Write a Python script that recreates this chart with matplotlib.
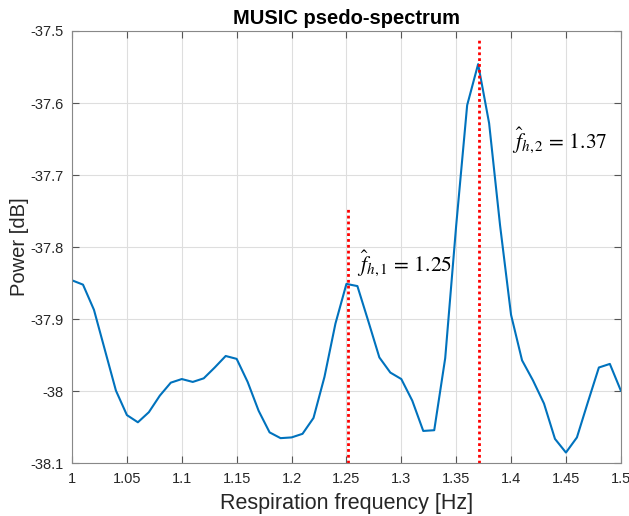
import numpy as np
import matplotlib
matplotlib.use('Agg')
import matplotlib.pyplot as plt

plt.rcParams['font.family'] = ['Liberation Sans', 'DejaVu Sans']
plt.rcParams['axes.unicode_minus'] = False
plt.rcParams['mathtext.fontset'] = 'stix'

# frequency grid and pseudo-spectrum values
freq = np.round(np.arange(1.00, 1.505, 0.01), 2)
power = [-37.846, -37.852, -37.887, -37.943, -37.999, -38.033, -38.043, -38.029,
         -38.006, -37.988, -37.983, -37.987, -37.982, -37.967, -37.951, -37.955,
         -37.987, -38.027, -38.057, -38.065, -38.064, -38.059, -38.037, -37.980,
         -37.906, -37.851, -37.854, -37.903, -37.953, -37.974, -37.983, -38.013,
         -38.055, -38.054, -37.954, -37.770, -37.603, -37.546, -37.628, -37.770,
         -37.894, -37.957, -37.985, -38.017, -38.066, -38.085, -38.064, -38.015,
         -37.967, -37.962, -37.999]

peak_f = [1.251, 1.371]
peak_top = [-37.744, -37.51]
peak_labels = [r'$\hat{f}_{h,1}$ = 1.25', r'$\hat{f}_{h,2}$ = 1.37']
label_pos = [(1.2595, -37.822), (1.4007, -37.651)]

fig = plt.figure(figsize=(6.29, 5.16), dpi=100)
ax = fig.add_axes([0.1145, 0.102, 0.8725, 0.838])

ax.plot(freq, power, color=(0, 0.447, 0.741), lw=1.5)
for f, top in zip(peak_f, peak_top):
    ax.plot([f, f], [-38.1, top], color='red', ls=(0, (1, 1.1)), lw=2)
for txt, (x, y) in zip(peak_labels, label_pos):
    ax.text(x, y, txt, fontsize=15.5, family='STIXGeneral', va='center', ha='left')

ax.set_xlim(1, 1.5)
ax.set_ylim(-38.1, -37.5)
xt = np.round(np.arange(1, 1.501, 0.05), 2)
ax.set_xticks(xt)
ax.set_xticklabels([('%g' % v) for v in xt])
yt = [-38.1, -38, -37.9, -37.8, -37.7, -37.6, -37.5]
ax.set_yticks(yt)
ax.set_yticklabels([('%g' % v) for v in yt])
ax.tick_params(direction='in', top=True, right=True, labelsize=10.5,
               labelcolor='#262626', color='#555555', length=5, pad=6)
ax.grid(True, color='#dedede', lw=0.8)
for s in ax.spines.values():
    s.set_color('#888888')
ax.set_xlabel('Respiration frequency [Hz]', fontsize=15.5, color='#262626', labelpad=5)
ax.set_ylabel('Power [dB]', fontsize=14.5, color='#262626', labelpad=1)
ax.set_title('MUSIC psedo-spectrum', fontsize=14.5, fontweight='bold', pad=5)

fig.savefig('out.png', dpi=100)
